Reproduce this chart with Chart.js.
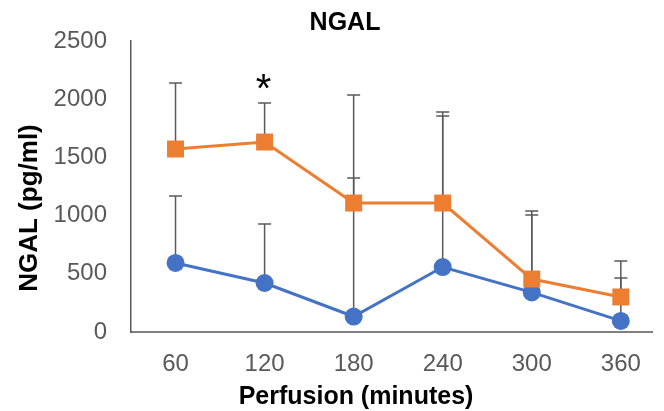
<!DOCTYPE html>
<html>
<head>
<meta charset="utf-8">
<script src="https://cdn.jsdelivr.net/npm/chart.js@4"></script>
<style>
  html, body { margin: 0; padding: 0; background: #fff; }
  canvas { display: block; }
</style>
</head>
<body>
<canvas id="chart" width="664" height="411"></canvas>
<script>
// perfusion time points (minutes)
const minutes = [60, 120, 180, 240, 300, 360];

// blue series: mean and upper SD
const blueMean = [593, 421, 133, 558, 340, 95];
const blueErr = [575, 507, 1903, 1298, 665, 369];

// orange series: mean and upper SD
const orangeMean = [1572, 1632, 1108, 1108, 455, 301];
const orangeErr = [567, 335, 215, 782, 585, 309];

const yTicks = [0, 500, 1000, 1500, 2000, 2500];

const titleText = 'NGAL';
const xTitle = 'Perfusion (minutes)';
const yTitle = 'NGAL (pg/ml)';
const sigMark = '*';
const sigIndex = 1; // asterisk above 120 min

// upper error bars, drawn behind the lines
const errorBars = {
    id: 'errorBars',
    beforeDatasetsDraw(chart) {
        const { ctx, scales: { x, y } } = chart;
        ctx.save();
        ctx.strokeStyle = '#595959';
        ctx.lineWidth = 1.5;
        [[blueMean, blueErr], [orangeMean, orangeErr]].forEach(([mean, err]) => {
            mean.forEach((v, i) => {
                const px = x.getPixelForValue(minutes[i]);
                const y0 = y.getPixelForValue(v);
                const y1 = y.getPixelForValue(v + err[i]);
                ctx.beginPath();
                ctx.moveTo(px, y0);
                ctx.lineTo(px, y1);
                ctx.moveTo(px - 6.5, y1);
                ctx.lineTo(px + 6.5, y1);
                ctx.stroke();
            });
        });
        ctx.restore();
    }
};

// title, axis titles and the significance mark
const labels = {
    id: 'labels',
    afterDraw(chart) {
        const { ctx, scales: { x, y } } = chart;
        ctx.save();
        ctx.fillStyle = '#000';
        ctx.textAlign = 'center';
        ctx.textBaseline = 'alphabetic';

        ctx.font = 'bold 25px "Liberation Sans", Arial, sans-serif';
        ctx.fillText(titleText, 345, 30);
        ctx.fillText(xTitle, 356, 404);

        ctx.save();
        ctx.translate(37, 208);
        ctx.rotate(-Math.PI / 2);
        ctx.font = 'bold 26px "Liberation Sans", Arial, sans-serif';
        ctx.fillText(yTitle, 0, 0);
        ctx.restore();

        // asterisk centred by its glyph box
        ctx.font = '40px "Liberation Sans", Arial, sans-serif';
        const m = ctx.measureText(sigMark);
        const cx = x.getPixelForValue(minutes[sigIndex]) - 1;
        const cy = y.getPixelForValue(orangeMean[sigIndex] + orangeErr[sigIndex]) - 22;
        const base = cy + (m.actualBoundingBoxAscent - m.actualBoundingBoxDescent) / 2;
        ctx.fillText(sigMark, cx, base);
        ctx.restore();
    }
};

const ctx = document.getElementById('chart').getContext('2d');
new Chart(ctx, {
    type: 'line',
    data: {
        datasets: [{
            label: 'Series 1',
            data: minutes.map((m, i) => ({ x: m, y: blueMean[i] })),
            borderColor: '#4472C4',
            backgroundColor: '#4472C4',
            borderWidth: 3,
            pointStyle: 'circle',
            pointRadius: 9,
            pointBorderWidth: 0,
            order: 2
        }, {
            label: 'Series 2',
            data: minutes.map((m, i) => ({ x: m, y: orangeMean[i] })),
            borderColor: '#ED7D31',
            backgroundColor: '#ED7D31',
            borderWidth: 3,
            pointStyle: 'rect',
            pointRadius: 12,
            pointBorderWidth: 0,
            order: 1
        }]
    },
    options: {
        responsive: false,
        animation: false,
        layout: { padding: { top: 41, right: 0, bottom: 0, left: 0 } },
        plugins: {
            legend: { display: false },
            tooltip: { enabled: false },
            title: { display: false }
        },
        scales: {
            x: {
                type: 'linear',
                min: 30,
                max: 381,
                afterBuildTicks: s => { s.ticks = minutes.map(v => ({ value: v })); },
                afterFit: s => { s.height = 79; },
                grid: { display: false, drawTicks: false },
                border: { display: true, color: '#808080', width: 2 },
                ticks: {
                    color: '#595959',
                    padding: 18,
                    maxRotation: 0,
                    autoSkip: false,
                    callback: v => String(v),
                    font: { family: '"Liberation Sans", Arial, sans-serif', size: 24 }
                }
            },
            y: {
                min: 0,
                max: 2500,
                afterBuildTicks: s => { s.ticks = yTicks.map(v => ({ value: v })); },
                afterFit: s => { s.width = 131; },
                grid: { display: false, drawTicks: false },
                border: { display: true, color: '#595959', width: 1.5 },
                ticks: {
                    color: '#595959',
                    padding: 24,
                    callback: v => String(v),
                    font: { family: '"Liberation Sans", Arial, sans-serif', size: 24 }
                }
            }
        }
    },
    plugins: [errorBars, labels]
});
</script>
</body>
</html>
